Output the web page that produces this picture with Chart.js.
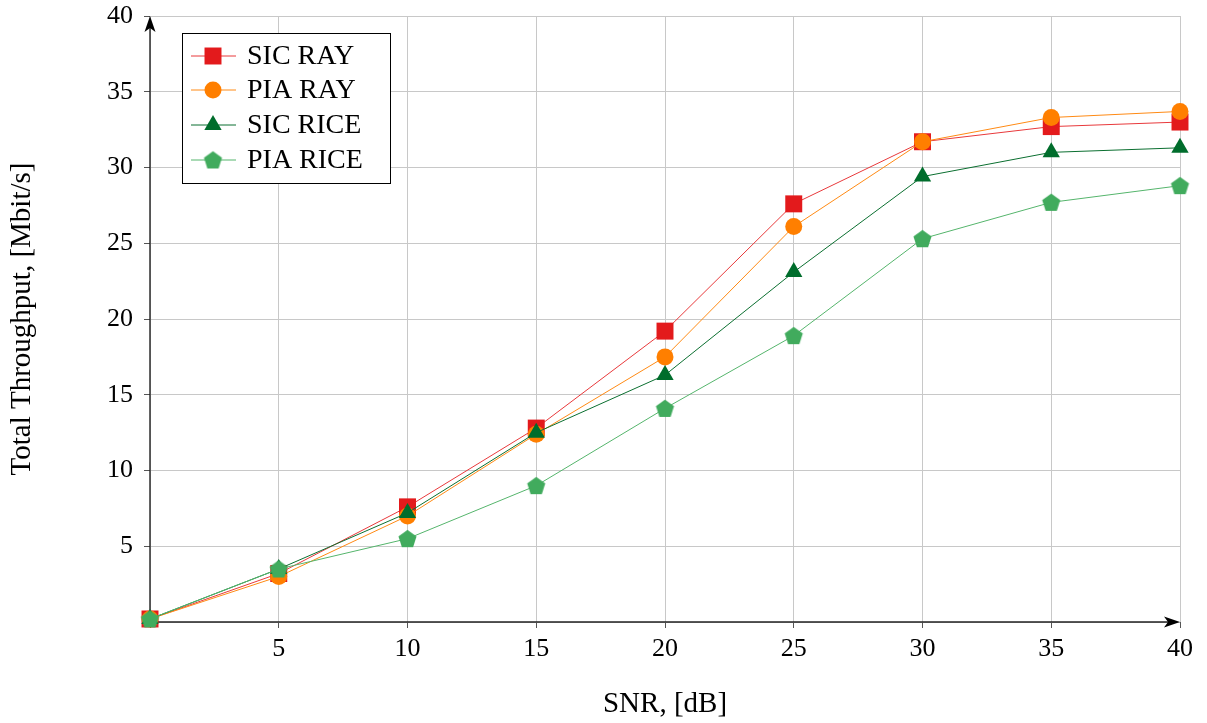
<!DOCTYPE html>
<html lang="en">
<head>
    <meta charset="UTF-8">
    <title>Total Throughput vs SNR</title>
    <script src="https://cdn.jsdelivr.net/npm/chart.js"></script>
    <style>
        html, body { margin: 0; padding: 0; background: #fff; }
        #wrap { width: 1207px; height: 723px; position: relative; }
    </style>
</head>
<body>
    <div id="wrap"><canvas id="chart" width="1207" height="723"></canvas></div>

    <script>
        // data
        const snr = [0, 5, 10, 15, 20, 25, 30, 35, 40];
        const sicRay = [0.2, 3.2, 7.6, 12.8, 19.2, 27.6, 31.7, 32.7, 33.0];
        const piaRay = [0.2, 3.0, 7.0, 12.4, 17.5, 26.1, 31.7, 33.3, 33.7];
        const sicRice = [0.2, 3.5, 7.2, 12.5, 16.3, 23.1, 29.4, 31.0, 31.3];
        const piaRice = [0.2, 3.5, 5.5, 9.0, 14.1, 18.9, 25.3, 27.7, 28.8];

        const seriesNames = ["SIC RAY", "PIA RAY", "SIC RICE", "PIA RICE"];
        const seriesColors = ["#e31a1c", "#ff7f00", "#006d2c", "#41ab5d"];
        const lineColors = ["#e8393b", "#ff8a14", "#0b6f30", "#55b56c"];

        const FONT = "'Liberation Serif', 'DejaVu Serif', serif";

        // pentagon marker as a small canvas
        function makePentagon(r, color) {
            const c = document.createElement('canvas');
            const s = Math.ceil(r * 2 + 2);
            c.width = s; c.height = s;
            const g = c.getContext('2d');
            g.fillStyle = color;
            g.beginPath();
            for (let i = 0; i < 5; i++) {
                const a = -Math.PI / 2 + i * 2 * Math.PI / 5;
                const px = s / 2 + r * Math.cos(a);
                const py = s / 2 + r * Math.sin(a) + 0.8;
                if (i === 0) g.moveTo(px, py); else g.lineTo(px, py);
            }
            g.closePath();
            g.fill();
            return c;
        }
        const pentagon = makePentagon(9.5, seriesColors[3]);

        const styles = ['rect', 'circle', 'triangle', pentagon];
        const radii = [12, 8.5, 10, 9.5];

        function toPoints(ys) {
            return snr.map((x, i) => ({ x: x, y: ys[i] }));
        }

        const allSeries = [sicRay, piaRay, sicRice, piaRice];
        const datasets = allSeries.map((ys, i) => ({
            label: seriesNames[i],
            data: toPoints(ys),
            borderColor: lineColors[i],
            backgroundColor: seriesColors[i],
            borderWidth: 1,
            pointStyle: styles[i],
            pointRadius: radii[i],
            pointBorderWidth: 0,
            pointBorderColor: seriesColors[i],
            pointBackgroundColor: seriesColors[i],
            order: 4 - i,
            clip: false,
            tension: 0
        }));

        // axis arrows + legend box
        const extras = {
            id: 'extras',
            beforeDatasetsDraw(chart) {
                const ctx = chart.ctx;
                const a = chart.chartArea;
                ctx.save();
                ctx.strokeStyle = '#222';
                ctx.fillStyle = '#000';
                ctx.lineWidth = 1.4;
                // x arrow
                ctx.beginPath();
                ctx.moveTo(a.left, a.bottom);
                ctx.lineTo(a.right - 4, a.bottom);
                ctx.stroke();
                ctx.beginPath();
                ctx.moveTo(a.right, a.bottom);
                ctx.lineTo(a.right - 16, a.bottom - 5.5);
                ctx.lineTo(a.right - 12, a.bottom);
                ctx.lineTo(a.right - 16, a.bottom + 5.5);
                ctx.closePath();
                ctx.fill();
                // y arrow
                ctx.beginPath();
                ctx.moveTo(a.left, a.bottom);
                ctx.lineTo(a.left, a.top + 4);
                ctx.stroke();
                ctx.beginPath();
                ctx.moveTo(a.left, a.top);
                ctx.lineTo(a.left - 5.5, a.top + 16);
                ctx.lineTo(a.left, a.top + 12);
                ctx.lineTo(a.left + 5.5, a.top + 16);
                ctx.closePath();
                ctx.fill();
                ctx.restore();
            },
            afterDraw(chart) {
                const ctx = chart.ctx;
                ctx.save();
                // legend
                const bx = 182, by = 33, bw = 208, bh = 150;
                ctx.fillStyle = '#fff';
                ctx.fillRect(bx, by, bw, bh);
                ctx.lineWidth = 1;
                ctx.strokeStyle = '#000';
                ctx.strokeRect(bx + 0.5, by + 0.5, bw, bh);
                const rowY = [56, 90, 125, 160];
                ctx.font = '28px ' + FONT;
                ctx.textBaseline = 'middle';
                ctx.textAlign = 'left';
                for (let i = 0; i < 4; i++) {
                    const y = rowY[i];
                    ctx.strokeStyle = lineColors[i];
                    ctx.lineWidth = 1;
                    ctx.beginPath();
                    ctx.moveTo(191, y);
                    ctx.lineTo(236, y);
                    ctx.stroke();
                    if (Chart.helpers && Chart.helpers.drawPoint) {
                        ctx.fillStyle = seriesColors[i];
                        ctx.strokeStyle = seriesColors[i];
                        ctx.lineWidth = 0;
                        Chart.helpers.drawPoint(ctx, {
                            pointStyle: styles[i],
                            radius: radii[i],
                            rotation: 0,
                            borderWidth: 0
                        }, 213, y);
                    }
                    ctx.fillStyle = '#000';
                    ctx.fillText(seriesNames[i], 247, y + 1);
                }
                ctx.restore();
            }
        };

        new Chart(document.getElementById('chart'), {
            type: 'line',
            data: { datasets: datasets },
            options: {
                responsive: false,
                animation: false,
                layout: { padding: { top: 0, right: 27, left: 0, bottom: 0 } },
                plugins: {
                    legend: { display: false },
                    tooltip: { enabled: false }
                },
                scales: {
                    x: {
                        type: 'linear',
                        min: 0,
                        max: 40,
                        afterFit: s => { s.height = 101; },
                        ticks: {
                            stepSize: 5,
                            color: '#000',
                            padding: 6,
                            maxRotation: 0,
                            autoSkip: false,
                            font: { family: FONT, size: 26 },
                            callback: v => (v === 0 ? '' : v)
                        },
                        grid: { color: '#c8c8c8', lineWidth: 1, tickLength: 6, tickColor: '#555' },
                        border: { display: false },
                        title: {
                            display: true,
                            text: 'SNR, [dB]',
                            color: '#000',
                            font: { family: FONT, size: 29 },
                            padding: { top: 0, bottom: 1 }
                        }
                    },
                    y: {
                        min: 0,
                        max: 40,
                        afterFit: s => { s.width = 150; s.paddingTop = 16; },
                        ticks: {
                            stepSize: 5,
                            color: '#000',
                            padding: 11,
                            autoSkip: false,
                            font: { family: FONT, size: 26 },
                            callback: v => (v === 0 ? '' : v)
                        },
                        grid: { color: '#c8c8c8', lineWidth: 1, tickLength: 6, tickColor: '#555' },
                        border: { display: false },
                        title: {
                            display: true,
                            text: 'Total Throughput, [Mbit/s]',
                            color: '#000',
                            font: { family: FONT, size: 29 },
                            padding: { top: 5, bottom: 0 }
                        }
                    }
                }
            },
            plugins: [extras]
        });
    </script>
</body>
</html>
